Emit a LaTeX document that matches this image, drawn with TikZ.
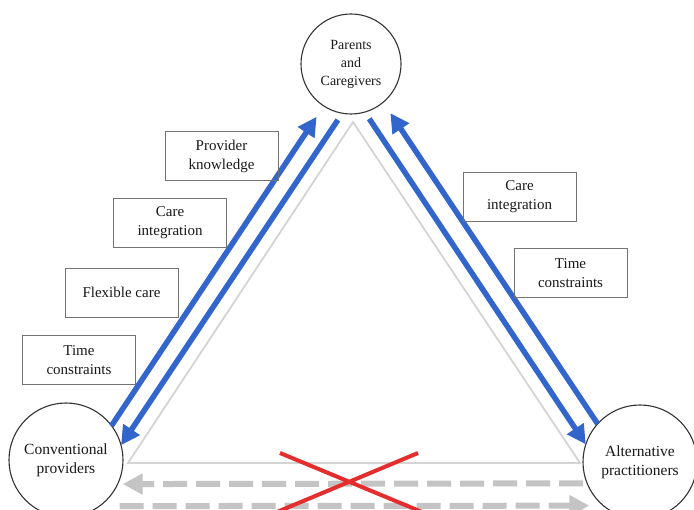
\documentclass[tikz,border=0pt]{standalone}
\usepackage{fontspec}
\setmainfont{Liberation Serif}
\usetikzlibrary{arrows.meta,calc}
\definecolor{bluearr}{RGB}{50,102,204}
\definecolor{grayarr}{RGB}{196,196,196}
\definecolor{trigray}{RGB}{212,212,212}
\definecolor{redx}{RGB}{228,45,45}
\definecolor{txt}{RGB}{25,25,25}
\begin{document}
\begin{tikzpicture}[x=1pt,y=-1pt,
  actor/.style={circle,draw=black!80,line width=1.1pt,inner sep=0pt,outer sep=0pt,align=center,text=txt,font=\fontsize{15.5}{19}\selectfont},
  lbl/.style={draw=black!55,line width=0.8pt,minimum width=113pt,minimum height=49pt,inner sep=2pt,align=center,text=txt,font=\fontsize{15}{19}\selectfont},
  bluel/.style={draw=bluearr,line width=5.5pt,-{Triangle[length=19pt,width=19pt]}},
  gdash/.style={draw=grayarr,line width=6pt,dash pattern=on 24pt off 9pt,-{Triangle[length=20pt,width=20pt]}},
  triline/.style={draw=trigray,line width=1.8pt},
  crossline/.style={draw=redx,line width=4pt}
]
\useasboundingbox (0,0) rectangle (694,510);
\fill[white] (0,0) rectangle (694,510);

% actors
\node[actor,minimum size=100pt,font=\fontsize{14}{18}\selectfont] (par) at (351,64) {Parents\\and\\Caregivers};
\node[actor,minimum size=114pt] (conv) at (66,460) {Conventional\\providers};
\node[actor,minimum size=114pt] (alt) at (640,462) {Alternative\\practitioners};

% grey triangle
\coordinate (gl) at (128,463);
\coordinate (gt) at (353,122);
\coordinate (gr) at (580,463);
\draw[triline] (gl) -- (gt) -- (gr) -- cycle;

% blue arrows
\draw[bluel,shorten >=13pt] (conv.37) -- (par.237);
\draw[bluel,shorten <=8pt] (par.260) -- (conv.15);
\draw[bluel,shorten >=13pt] (alt.138) -- (par.310);
\draw[bluel,shorten <=8pt] (par.286.5) -- (alt.162);

% grey dashed arrows
\draw[gdash,shorten <=4pt,shorten >=5pt] (alt.202.7) -- (conv.335.1);
\draw[gdash,shorten <=20pt,shorten >=14pt] (conv.306.2) -- (alt.230.6);

% red cross
\coordinate (xa) at (280,453);
\coordinate (xb) at (422,512);
\coordinate (xc) at (418,453);
\coordinate (xd) at (277,512);
\draw[crossline] (xa) -- (xb) (xc) -- (xd);

% labels
\node[lbl] (pk) at (221.5,156) {Provider\\knowledge};
\node[lbl] (cil) at (170,223) {Care\\integration};
\node[lbl] (fc) at (121.5,292.5) {Flexible care};
\node[lbl] (tcl) at (79,360) {Time\\constraints};
\node[lbl] (cir) at (519.5,197) {Care\\integration};
\node[lbl] (tcr) at (570.5,273) {Time\\constraints};
\end{tikzpicture}
\end{document}
